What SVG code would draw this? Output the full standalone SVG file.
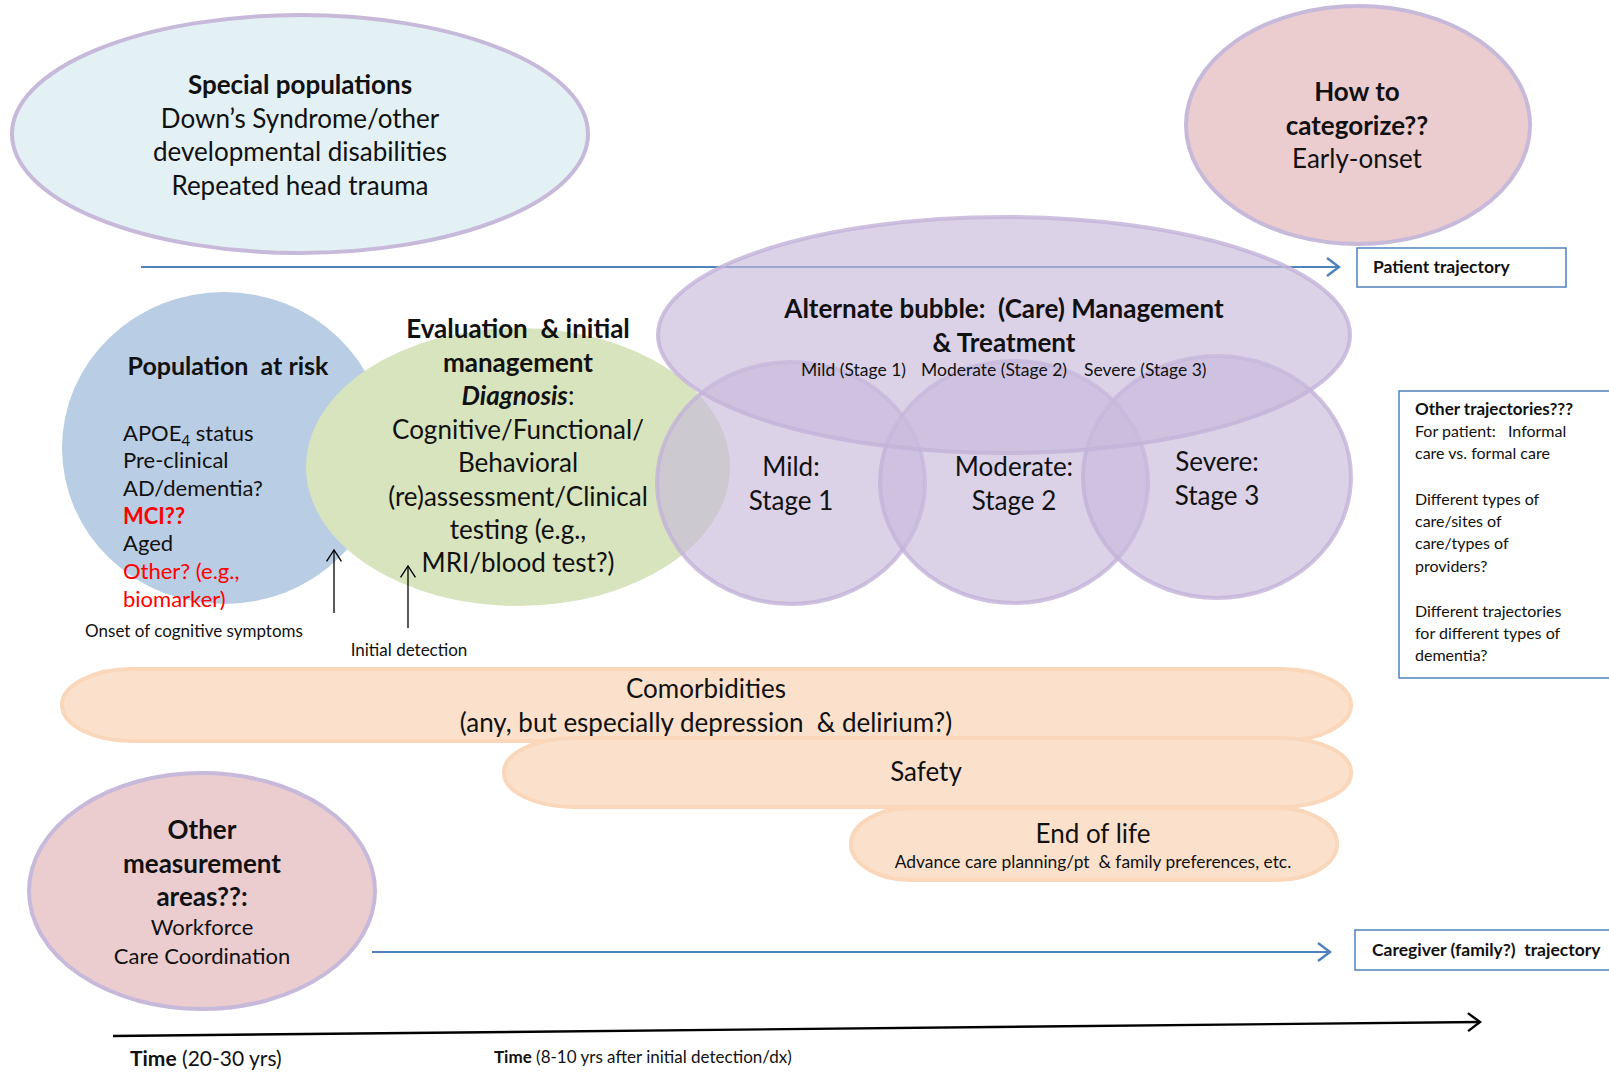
<svg xmlns="http://www.w3.org/2000/svg" width="1609" height="1072" viewBox="0 0 1609 1072">
  <style>
    text { font-family: Lato, "Open Sans", "Liberation Sans", sans-serif; fill: #111; }
    .c { text-anchor: middle; }
    .b { font-weight: 700; }
    .big { font-size: 26px; }
    .med { font-size: 22px; }
    .sm { font-size: 16px; }
    .red { fill: #ff0000; }
    .halo { stroke: #c7b9da; stroke-width: 4; }
    .stage { fill: #c8badb; fill-opacity: 0.65; stroke: #c3b3d8; stroke-width: 4; stroke-opacity: 0.8; }
    .peach { fill: #fbe1cc; stroke: #fad7ba; stroke-width: 4; }
    .box { fill: #fff; stroke: #4f81bd; stroke-width: 1.5; }
    .blue-line { stroke: #4f81bd; stroke-width: 2.2; fill: none; }
  </style>
  <defs>
    <marker id="chevBlue" markerUnits="userSpaceOnUse" markerWidth="24" markerHeight="24" refX="16" refY="10" orient="auto" viewBox="0 0 24 20">
      <path d="M4,1 L16,10 L4,19" fill="none" stroke="#4f81bd" stroke-width="2.4"/>
    </marker>
    <marker id="chevBlack" markerUnits="userSpaceOnUse" markerWidth="24" markerHeight="24" refX="16" refY="10" orient="auto" viewBox="0 0 24 20">
      <path d="M4,1 L16,10 L4,19" fill="none" stroke="#000" stroke-width="2.4"/>
    </marker>
    <marker id="thinUp" markerUnits="userSpaceOnUse" markerWidth="16" markerHeight="16" refX="12" refY="7" orient="auto" viewBox="0 0 14 14">
      <path d="M2,0.5 L12,7 L2,13.5" fill="none" stroke="#000" stroke-width="1.2"/>
    </marker>
  </defs>

  <rect width="1609" height="1072" fill="#fff"/>

  <!-- top-left: special populations -->
  <g id="special-populations">
    <ellipse cx="300" cy="134" rx="288" ry="119" fill="#e3f0f4" class="halo"/>
    <text class="c b big" x="300" y="94">Special populations</text>
    <text class="c big" x="300" y="128">Down’s Syndrome/other</text>
    <text class="c big" x="300" y="161">developmental  disabilities</text>
    <text class="c big" x="300" y="195">Repeated  head trauma</text>
  </g>

  <!-- top-right: categorisation question -->
  <g id="how-to-categorize">
    <ellipse cx="1358" cy="125" rx="172" ry="119" fill="#ebcdd0" class="halo"/>
    <text class="c b big" x="1357" y="101">How to</text>
    <text class="c b big" x="1357" y="135">categorize??</text>
    <text class="c big" x="1357" y="168">Early-onset</text>
  </g>

  <!-- trajectory and time lines sit beneath the bubbles -->
  <g id="connectors">
    <line class="blue-line" x1="141" y1="267" x2="1339" y2="267" marker-end="url(#chevBlue)"/>
    <line class="blue-line" x1="372" y1="952" x2="1330" y2="952" marker-end="url(#chevBlue)"/>
    <line x1="113" y1="1036" x2="1480" y2="1022" stroke="#000" stroke-width="2.4" marker-end="url(#chevBlack)"/>
  </g>

  <g id="patient-trajectory">
    <rect class="box" x="1357" y="248" width="209" height="39"/>
    <text class="b" x="1373" y="273" font-size="17.5">Patient trajectory</text>
  </g>

  <!-- population at risk -->
  <g id="population-at-risk">
    <ellipse cx="224" cy="448" rx="162" ry="156" fill="#b9cde4"/>
    <text class="c b" x="228" y="375" font-size="25" xml:space="preserve">Population  at risk</text>
    <text class="med" x="123" y="441">APOE<tspan font-size="15" dy="5">4</tspan><tspan dy="-5"> status</tspan></text>
    <text class="med" x="123" y="468">Pre-clinical</text>
    <text class="med" x="123" y="496">AD/dementia?</text>
    <text class="med b red" x="123" y="524">MCI??</text>
    <text class="med" x="123" y="551">Aged</text>
    <text class="med red" x="123" y="579">Other? (e.g.,</text>
    <text class="med red" x="123" y="607">biomarker)</text>
  </g>

  <!-- evaluation & initial management -->
  <g id="evaluation">
    <ellipse cx="518" cy="467" rx="212" ry="139" fill="#d7e4bd"/>
    <text class="c b big" x="518" y="338" xml:space="preserve">Evaluation  &amp; initial</text>
    <text class="c b big" x="518" y="372">management</text>
    <text class="c big" x="518" y="405"><tspan class="b" font-style="italic">Diagnosis</tspan>:</text>
    <text class="c big" x="518" y="439">Cognitive/Functional/</text>
    <text class="c big" x="518" y="472">Behavioral</text>
    <text class="c big" x="518" y="506">(re)assessment/Clinical</text>
    <text class="c big" x="518" y="539">testing (e.g.,</text>
    <text class="c big" x="518" y="572">MRI/blood test?)</text>
  </g>

  <!-- stage circles -->
  <g id="stage-mild">
    <ellipse class="stage" cx="791" cy="483" rx="134" ry="121"/>
    <text class="c big" x="791" y="476">Mild:</text>
    <text class="c big" x="791" y="510">Stage 1</text>
  </g>
  <g id="stage-moderate">
    <ellipse class="stage" cx="1014" cy="482" rx="134" ry="121"/>
    <text class="c big" x="1014" y="476">Moderate:</text>
    <text class="c big" x="1014" y="510">Stage 2</text>
  </g>
  <g id="stage-severe">
    <ellipse class="stage" cx="1217" cy="477" rx="134" ry="121"/>
    <text class="c big" x="1217" y="471">Severe:</text>
    <text class="c big" x="1217" y="505">Stage 3</text>
  </g>

  <!-- care management bubble -->
  <g id="care-management">
    <ellipse class="stage" cx="1004" cy="335" rx="346" ry="118"/>
    <text class="c b big" x="1004" y="318" xml:space="preserve">Alternate bubble:  (Care) Management</text>
    <text class="c b big" x="1004" y="352">&amp; Treatment</text>
    <text x="801" y="376" font-size="17.5">Mild (Stage 1)</text>
    <text x="921" y="376" font-size="17.5">Moderate (Stage 2)</text>
    <text x="1084" y="376" font-size="17.5">Severe (Stage 3)</text>
  </g>

  <!-- event markers -->
  <g id="onset-marker">
    <line x1="334" y1="613" x2="334" y2="550" stroke="#000" stroke-width="1.3" marker-end="url(#thinUp)"/>
    <text class="c" x="194" y="637" font-size="17">Onset of cognitive symptoms</text>
  </g>
  <g id="detection-marker">
    <line x1="408" y1="628" x2="408" y2="566" stroke="#000" stroke-width="1.3" marker-end="url(#thinUp)"/>
    <text class="c" x="409" y="656" font-size="17">Initial detection</text>
  </g>

  <!-- other trajectories note -->
  <g id="other-trajectories">
    <rect class="box" x="1399" y="391" width="212" height="287"/>
    <text class="b" x="1415" y="415" font-size="17">Other trajectories???</text>
    <text class="sm" x="1415" y="437" xml:space="preserve">For patient:   Informal</text>
    <text class="sm" x="1415" y="459">care vs. formal care</text>
    <text class="sm" x="1415" y="505">Different types of</text>
    <text class="sm" x="1415" y="527">care/sites of</text>
    <text class="sm" x="1415" y="549">care/types of</text>
    <text class="sm" x="1415" y="572">providers?</text>
    <text class="sm" x="1415" y="617">Different trajectories</text>
    <text class="sm" x="1415" y="639">for different types of</text>
    <text class="sm" x="1415" y="661">dementia?</text>
  </g>

  <!-- cross-cutting bands -->
  <g id="comorbidities">
    <rect class="peach" x="62" y="669" width="1289" height="72" rx="70" ry="36"/>
    <text class="c big" x="706" y="698">Comorbidities</text>
    <text class="c big" x="706" y="732" xml:space="preserve">(any, but especially depression  &amp; delirium?)</text>
  </g>
  <g id="safety">
    <rect class="peach" x="504" y="738" width="847" height="69" rx="70" ry="34"/>
    <text class="c big" x="926" y="781">Safety</text>
  </g>
  <g id="end-of-life">
    <rect class="peach" x="851" y="808" width="486" height="72" rx="60" ry="36"/>
    <text class="c big" x="1093" y="843">End of life</text>
    <text class="c" x="1093" y="868" font-size="17.4" xml:space="preserve">Advance care planning/pt  &amp; family preferences, etc.</text>
  </g>

  <!-- bottom-left measurement areas -->
  <g id="other-measurement">
    <ellipse cx="202" cy="891" rx="173" ry="118" fill="#ebcdd0" class="halo"/>
    <text class="c b big" x="202" y="839">Other</text>
    <text class="c b big" x="202" y="873">measurement</text>
    <text class="c b big" x="202" y="906">areas??:</text>
    <text class="c med" x="202" y="935">Workforce</text>
    <text class="c med" x="202" y="964">Care Coordination</text>
  </g>

  <g id="caregiver-trajectory">
    <rect class="box" x="1355" y="930" width="256" height="40"/>
    <text class="b" x="1372" y="956" font-size="17.5" xml:space="preserve">Caregiver (family?)  trajectory</text>
  </g>

  <!-- time axis labels -->
  <g id="time-labels">
    <text x="130" y="1066" font-size="21"><tspan class="b">Time</tspan> (20-30 yrs)</text>
    <text x="494" y="1063" font-size="17"><tspan class="b">Time</tspan> (8-10 yrs after initial detection/dx)</text>
  </g>
</svg>
